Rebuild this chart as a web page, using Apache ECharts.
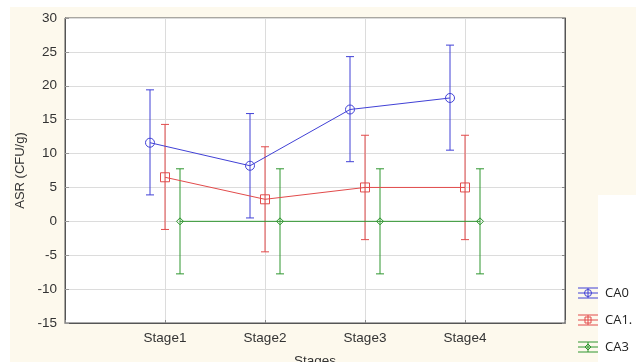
<!DOCTYPE html>
<html>
<head>
<meta charset="utf-8">
<script src="https://cdn.jsdelivr.net/npm/echarts@6/dist/echarts.min.js"></script>
<style>
  html, body { margin: 0; padding: 0; background: #fff; }
  #chart { width: 636px; height: 362px; }
</style>
</head>
<body>
<div id="chart"></div>
<script>
// Stage categories and per-series means with lower / upper error limits
const stages = ['Stage1', 'Stage2', 'Stage3', 'Stage4'];
const seriesNames = ['CA0', 'CA1.', 'CA3'];

const ca0Mean = [11.6, 8.2, 16.5, 18.2];
const ca0Low  = [3.9, 0.5, 8.8, 10.5];
const ca0High = [19.4, 15.9, 24.3, 26.0];

const ca1Mean = [6.5, 3.25, 5.0, 5.0];
const ca1Low  = [-1.2, -4.5, -2.7, -2.7];
const ca1High = [14.3, 11.0, 12.7, 12.7];

const ca3Mean = [0, 0, 0, 0];
const ca3Low  = [-7.75, -7.75, -7.75, -7.75];
const ca3High = [7.75, 7.75, 7.75, 7.75];

const yTicks = [-15, -10, -5, 0, 5, 10, 15, 20, 25, 30];

const colors = ['#4141d6', '#e24b4b', '#2e962e'];
const symbols = ['circle', 'rect', 'diamond'];
const symbolSizes = [9, 9, 7];
const dodge = [-0.15, 0, 0.15];

const means = [ca0Mean, ca1Mean, ca3Mean];
const lows = [ca0Low, ca1Low, ca3Low];
const highs = [ca0High, ca1High, ca3High];

const chart = echarts.init(document.getElementById('chart'), null, { renderer: 'canvas' });

const series = [];
seriesNames.forEach((name, s) => {
  const xs = stages.map((_, i) => i + 1 + dodge[s]);
  // error bars
  series.push({
    type: 'custom',
    name: name + '-err',
    data: xs.map((x, i) => [x, lows[s][i], highs[s][i]]),
    z: 3,
    renderItem: function (params, api) {
      const x = api.value(0);
      const lo = api.coord([x, api.value(1)]);
      const hi = api.coord([x, api.value(2)]);
      const half = 4;
      const style = { stroke: colors[s], lineWidth: 1, fill: null };
      return {
        type: 'group',
        children: [
          { type: 'line', shape: { x1: lo[0], y1: lo[1], x2: hi[0], y2: hi[1] }, style },
          { type: 'line', shape: { x1: hi[0] - half, y1: hi[1], x2: hi[0] + half, y2: hi[1] }, style },
          { type: 'line', shape: { x1: lo[0] - half, y1: lo[1], x2: lo[0] + half, y2: lo[1] }, style }
        ]
      };
    }
  });
  // means joined by a line
  series.push({
    type: 'line',
    name: name,
    data: xs.map((x, i) => [x, means[s][i]]),
    z: 4,
    symbol: symbols[s],
    symbolSize: symbolSizes[s],
    showSymbol: true,
    lineStyle: { color: colors[s], width: 1 },
    itemStyle: { color: '#ffffff00', borderColor: colors[s], borderWidth: 1 },
    emphasis: { disabled: true },
    animation: false
  });
});

// legend glyphs: horizontal error-bar icon with the series marker
const legendGraphics = [];
seriesNames.forEach((name, s) => {
  const cy = 293 + s * 27;
  const x0 = 578, x1 = 598, cx = 588;
  const st = { stroke: colors[s], lineWidth: 1, fill: null };
  legendGraphics.push(
    { type: 'line', shape: { x1: x0, y1: cy - 5, x2: x1, y2: cy - 5 }, style: st },
    { type: 'line', shape: { x1: x0, y1: cy, x2: x1, y2: cy }, style: st },
    { type: 'line', shape: { x1: x0, y1: cy + 5, x2: x1, y2: cy + 5 }, style: st },
    { type: 'line', shape: { x1: cx, y1: cy - 5, x2: cx, y2: cy + 5 }, style: st },
    s === 1
      ? { type: 'rect', shape: { x: cx - 3, y: cy - 3, width: 6, height: 6 }, style: st }
      : s === 0
        ? { type: 'circle', shape: { cx: cx, cy: cy, r: 3.5 }, style: st }
        : { type: 'polygon', shape: { points: [[cx, cy - 3], [cx + 3, cy], [cx, cy + 3], [cx - 3, cy]] }, style: st },
    { type: 'text', x: 605, y: cy, style: { text: name, fill: '#222', font: '13px "Open Sans", sans-serif', verticalAlign: 'middle' } }
  );
});

chart.setOption({
  animation: false,
  backgroundColor: '#ffffff',
  graphic: [
    { type: 'rect', z: -10, shape: { x: 10, y: 7, width: 626, height: 355 }, style: { fill: '#fdf9ed' }, silent: true },
    { type: 'rect', z: -9, shape: { x: 598, y: 195, width: 38, height: 167 }, style: { fill: '#ffffff' }, silent: true },
    ...legendGraphics
  ],
  grid: {
    left: 65, right: 71, top: 18, bottom: 39,
    outerBoundsMode: 'none',
    containLabel: false,
    show: true, backgroundColor: '#ffffff', borderColor: '#555', borderWidth: 1
  },
  xAxis: {
    type: 'value',
    min: 0, max: 5, interval: 1,
    name: 'Stages',
    nameLocation: 'middle',
    nameGap: 31,
    nameTextStyle: { color: '#333', fontSize: 13.5, fontFamily: 'Liberation Sans, Arial' },
    axisLine: { show: true, onZero: false, lineStyle: { color: '#555' } },
    axisTick: { show: true, inside: true, length: 3, lineStyle: { color: '#888' } },
    axisLabel: {
      color: '#333', fontSize: 13.5, fontFamily: 'Liberation Sans, Arial', margin: 8,
      formatter: v => (v >= 1 && v <= stages.length) ? stages[v - 1] : ''
    },
    splitLine: { show: true, lineStyle: { color: '#dcdcdc' } }
  },
  yAxis: [{
    type: 'value',
    min: yTicks[0], max: yTicks[yTicks.length - 1], interval: 5,
    name: 'ASR (CFU/g)',
    nameLocation: 'middle',
    nameGap: 37,
    nameTextStyle: { color: '#333', fontSize: 13, fontFamily: 'Liberation Sans, Arial' },
    axisLine: { show: true, onZero: false, lineStyle: { color: '#555' } },
    axisTick: { show: true, inside: true, length: 4, lineStyle: { color: '#999' } },
    axisLabel: { color: '#333', fontSize: 13.5, fontFamily: 'Liberation Sans, Arial', margin: 8 },
    splitLine: { show: true, lineStyle: { color: '#dcdcdc' } }
  }, {
    type: 'value',
    position: 'right',
    min: yTicks[0], max: yTicks[yTicks.length - 1], interval: 5,
    axisLine: { show: true, onZero: false, lineStyle: { color: '#555' } },
    axisTick: { show: true, inside: true, length: 3, lineStyle: { color: '#888' } },
    axisLabel: { show: false },
    splitLine: { show: false }
  }],
  series: series
});
</script>
</body>
</html>
